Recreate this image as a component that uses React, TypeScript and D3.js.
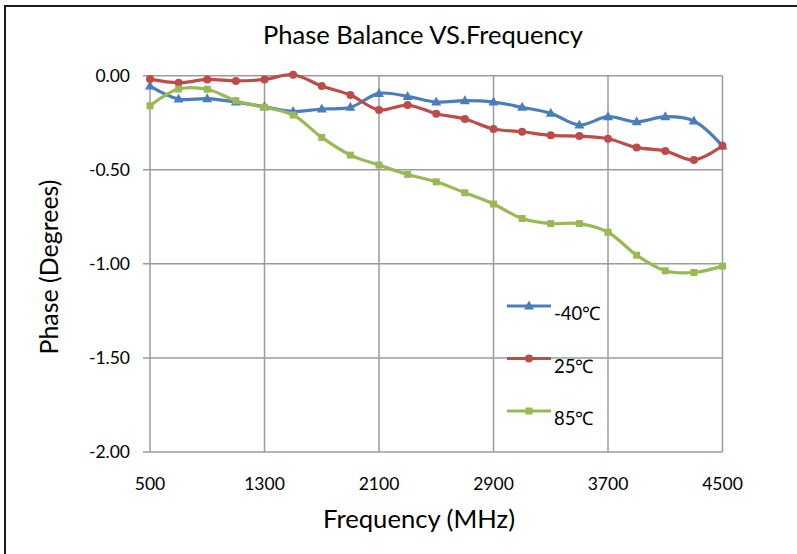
import { useRef, useEffect } from 'react';
import * as d3 from 'd3';

const freqs = [500, 700, 900, 1100, 1300, 1500, 1700, 1900, 2100, 2300, 2500,
  2700, 2900, 3100, 3300, 3500, 3700, 3900, 4100, 4300, 4500];

const minus40 = [-0.055, -0.124, -0.122, -0.14, -0.165, -0.19, -0.177, -0.168, -0.094, -0.11, -0.14,
  -0.133, -0.14, -0.168, -0.2, -0.262, -0.218, -0.245, -0.218, -0.241, -0.374];
const plus25 = [-0.018, -0.037, -0.02, -0.028, -0.02, 0.005, -0.055, -0.103, -0.182, -0.156, -0.202,
  -0.23, -0.283, -0.298, -0.317, -0.321, -0.335, -0.381, -0.4, -0.448, -0.372];
const plus85 = [-0.16, -0.071, -0.072, -0.133, -0.168, -0.209, -0.328, -0.422, -0.475, -0.525, -0.564,
  -0.622, -0.682, -0.759, -0.786, -0.786, -0.832, -0.954, -1.037, -1.046, -1.012];

const xTicks = [500, 1300, 2100, 2900, 3700, 4500];
const yTicks = [0, -0.5, -1, -1.5, -2];

const series = [
  { name: '-40℃', values: minus40, color: '#4a7ebb', marker: 'triangle' },
  { name: '25℃', values: plus25, color: '#be4b48', marker: 'circle' },
  { name: '85℃', values: plus85, color: '#98b954', marker: 'square' },
];

const FONT = 'Lato, "Open Sans", sans-serif';

export default function App() {
  const svgRef = useRef<SVGSVGElement>(null);

  useEffect(() => {
    document.body.style.margin = '0';
    const svg = d3.select(svgRef.current);
    svg.selectAll('*').remove();

    const left = 150, right = 722.5, top = 75.7, bottom = 452;
    const x = d3.scaleLinear().domain([500, 4500]).range([left, right]);
    const y = d3.scaleLinear().domain([-2, 0]).range([bottom, top]);
    const fmt = (v: number) => d3.format('.2f')(v).replace('−', '-');

    // outer frame (only top and left edges are inside the picture)
    svg.append('path').attr('d', 'M5,560 L5,6 L800,6')
      .attr('fill', 'none').attr('stroke', '#1a1a1a').attr('stroke-width', 2);

    const gridColor = '#9b9b9b';
    // horizontal grid + tick marks
    yTicks.forEach(t => {
      svg.append('line').attr('x1', left - 7).attr('x2', right)
        .attr('y1', y(t)).attr('y2', y(t))
        .attr('stroke', gridColor).attr('stroke-width', 1.5);
      svg.append('text').attr('x', left - 20).attr('y', y(t) + 6)
        .attr('text-anchor', 'end').attr('font-family', FONT).attr('font-size', 17.5)
        .attr('fill', '#000').text(fmt(t));
    });
    // vertical grid
    xTicks.forEach(t => {
      svg.append('line').attr('x1', x(t)).attr('x2', x(t))
        .attr('y1', top).attr('y2', bottom)
        .attr('stroke', gridColor).attr('stroke-width', 1.5);
      svg.append('text').attr('x', x(t)).attr('y', 490)
        .attr('text-anchor', 'middle').attr('font-family', FONT).attr('font-size', 17.5)
        .attr('fill', '#000').text(t);
    });

    const line = d3.line<number>()
      .x((_, i) => x(freqs[i]))
      .y(d => y(d))
      .curve(d3.curveCatmullRom.alpha(0.5));

    const drawMarker = (g: d3.Selection<SVGGElement, unknown, null, undefined>, kind: string, cx: number, cy: number, color: string) => {
      if (kind === 'triangle') {
        g.append('path').attr('d', `M${cx},${cy - 5.5} L${cx + 5},${cy + 3.5} L${cx - 5},${cy + 3.5} Z`).attr('fill', color);
      } else if (kind === 'circle') {
        g.append('circle').attr('cx', cx).attr('cy', cy).attr('r', 4).attr('fill', color);
      } else {
        g.append('rect').attr('x', cx - 3.5).attr('y', cy - 3.5).attr('width', 7).attr('height', 7).attr('fill', color);
      }
    };

    series.forEach(s => {
      const g = svg.append('g');
      g.append('path').datum(s.values).attr('d', line)
        .attr('fill', 'none').attr('stroke', s.color).attr('stroke-width', 3.2)
        .attr('stroke-linejoin', 'round');
      s.values.forEach((v, i) => drawMarker(g, s.marker, x(freqs[i]), y(v), s.color));
    });

    // legend
    series.forEach((s, i) => {
      const ly = 306 + i * 52.5;
      const g = svg.append('g');
      g.append('line').attr('x1', 507).attr('x2', 551).attr('y1', ly).attr('y2', ly)
        .attr('stroke', s.color).attr('stroke-width', 3.2);
      drawMarker(g, s.marker, 529, ly, s.color);
      g.append('text').attr('x', 554).attr('y', ly + 14)
        .attr('font-family', FONT).attr('font-size', 18.5).attr('fill', '#000').text(s.name);
    });

    // titles
    svg.append('text').attr('x', 423).attr('y', 44).attr('text-anchor', 'middle')
      .attr('font-family', FONT).attr('font-size', 25).attr('fill', '#000')
      .attr('textLength', 320).attr('lengthAdjust', 'spacingAndGlyphs')
      .text('Phase Balance VS.Frequency');
    svg.append('text').attr('x', 419).attr('y', 528).attr('text-anchor', 'middle')
      .attr('font-family', FONT).attr('font-size', 25).attr('fill', '#000')
      .attr('textLength', 192).attr('lengthAdjust', 'spacingAndGlyphs')
      .text('Frequency (MHz)');
    svg.append('text').attr('transform', 'translate(58,267) rotate(-90)')
      .attr('text-anchor', 'middle')
      .attr('font-family', FONT).attr('font-size', 25).attr('fill', '#000')
      .attr('textLength', 175).attr('lengthAdjust', 'spacingAndGlyphs')
      .text('Phase (Degrees)');
  }, []);

  return <svg ref={svgRef} width={797} height={554} style={{ display: 'block', background: '#fff' }} />;
}
